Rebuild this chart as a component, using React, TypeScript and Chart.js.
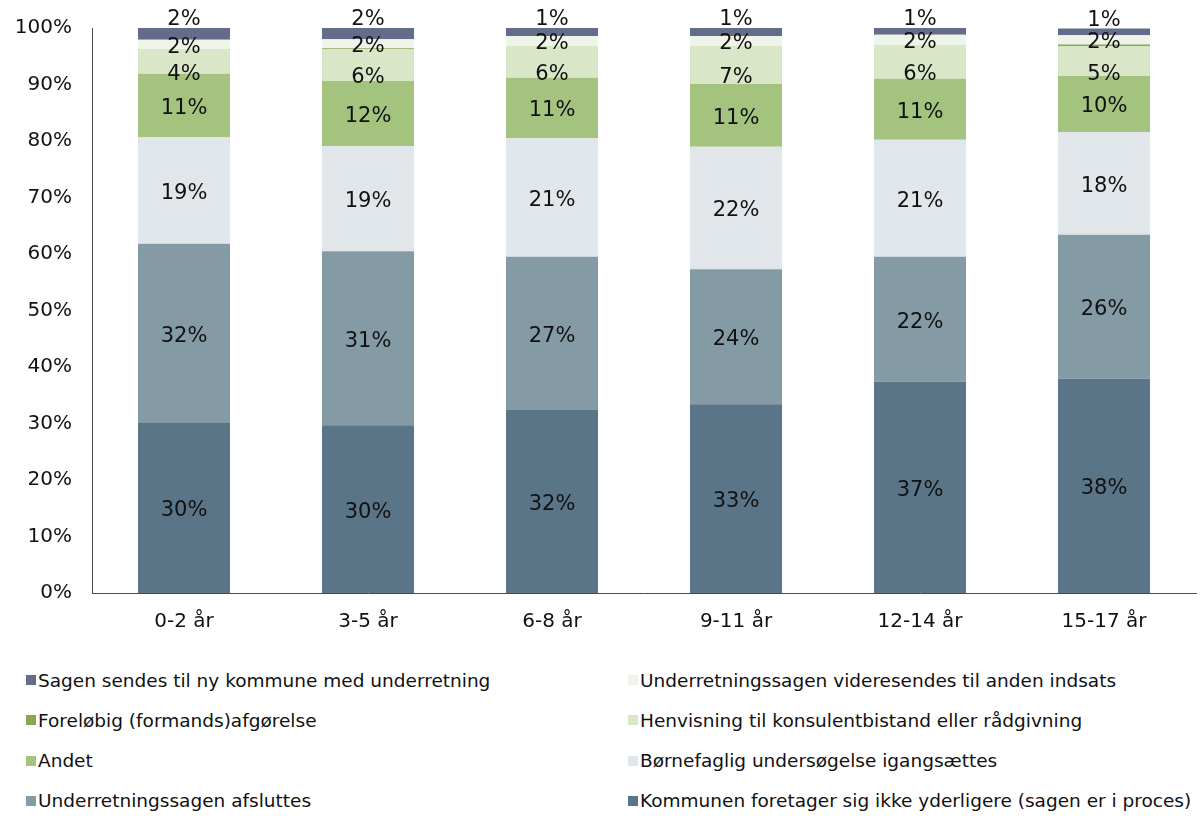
import React, { useEffect, useRef } from "react";
import { Chart, registerables } from "chart.js";

Chart.register(...registerables);

const categories = ["0-2 år", "3-5 år", "6-8 år", "9-11 år", "12-14 år", "15-17 år"];

// Series listed bottom -> top of the stack
const seriesNames = [
  "Kommunen foretager sig ikke yderligere (sagen er i proces)",
  "Underretningssagen afsluttes",
  "Børnefaglig undersøgelse igangsættes",
  "Andet",
  "Henvisning til konsulentbistand eller rådgivning",
  "Foreløbig (formands)afgørelse",
  "Underretningssagen videresendes til anden indsats",
  "Sagen sendes til ny kommune med underretning",
];

const kommunen = [30.1, 29.7, 32.4, 33.4, 37.4, 37.9];
const afsluttes = [31.7, 30.8, 27.1, 23.9, 22.1, 25.5];
const boernefaglig = [18.9, 18.6, 21.0, 21.7, 20.7, 18.2];
const andet = [11.2, 11.5, 10.7, 11.1, 10.8, 9.9];
const henvisning = [4.4, 5.7, 5.6, 6.7, 6.0, 5.3];
const foreloebig = [0, 0.1, 0, 0, 0, 0.3];
const videresendes = [1.6, 1.6, 1.8, 1.8, 1.8, 1.6];
const sagen = [2.1, 2.1, 1.4, 1.4, 1.2, 1.2];

const seriesValues = [kommunen, afsluttes, boernefaglig, andet, henvisning, foreloebig, videresendes, sagen];

const seriesColors = [
  "#5a7587",
  "#849ba6",
  "#e1e6ea",
  "#a3c37f",
  "#d9e6c7",
  "#8aa651",
  "#eef4e7",
  "#636d89",
];

const yTicks = [0, 10, 20, 30, 40, 50, 60, 70, 80, 90, 100];

const FONT = "'DejaVu Sans', Verdana, sans-serif";

const labelPlugin = {
  id: "segLabels",
  afterDatasetsDraw(chart: any) {
    const ctx = chart.ctx;
    ctx.save();
    ctx.font = `21px ${FONT}`;
    ctx.fillStyle = "#111";
    ctx.textAlign = "center";
    ctx.textBaseline = "middle";
    const n = chart.data.datasets.length;
    chart.data.datasets.forEach((ds: any, di: number) => {
      const meta = chart.getDatasetMeta(di);
      meta.data.forEach((bar: any, i: number) => {
        const v = ds.data[i];
        if (v < 0.5) return;
        const txt = Math.round(v) + "%";
        let y = (bar.y + bar.base) / 2 + 3;
        if (di === n - 1) y = bar.y - 8;
        else if (di === 4) y += 10;
        ctx.fillText(txt, bar.x, y);
      });
    });
    ctx.restore();
  },
};

export default function App() {
  const ref = useRef<HTMLCanvasElement>(null);

  useEffect(() => {
    if (!ref.current) return;
    const chart = new Chart(ref.current, {
      type: "bar",
      data: {
        labels: categories,
        datasets: seriesNames.map((name, i) => ({
          label: name,
          data: seriesValues[i],
          backgroundColor: seriesColors[i],
          borderWidth: 0,
          barPercentage: 0.5,
          categoryPercentage: 1,
        })),
      },
      options: {
        responsive: false,
        animation: false,
        layout: { padding: { left: 0, right: 8, top: 28, bottom: 0 } },
        plugins: { legend: { display: false }, tooltip: { enabled: false } },
        scales: {
          x: {
            stacked: true,
            grid: { display: false, drawTicks: false },
            border: { display: true, color: "#4b4b40", width: 1 },
            ticks: { color: "#111", font: { family: FONT, size: 20 }, padding: 17 },
            afterFit: (s: any) => { s.height = 57; s.paddingLeft = 0; s.paddingRight = 0; },
          },
          y: {
            stacked: true,
            min: 0,
            max: 100,
            afterBuildTicks: (s: any) => { s.ticks = yTicks.map((v) => ({ value: v })); },
            grid: { display: false, drawTicks: false },
            border: { display: true, color: "#4b4b40", width: 1 },
            ticks: {
              color: "#111",
              font: { family: FONT, size: 20 },
              padding: 20,
              callback: (v: any) => v + "%",
            },
            afterFit: (s: any) => { s.width = 92; s.paddingTop = 0; s.paddingBottom = 0; },
          },
        },
      },
      plugins: [labelPlugin],
    });
    return () => chart.destroy();
  }, []);

  const legendOrder = seriesNames.map((_, i) => seriesNames.length - 1 - i);

  return (
    <div style={{ position: "absolute", left: 0, top: 0, width: 1204, height: 816, background: "#fff" }}>
      <canvas ref={ref} width={1204} height={650} style={{ display: "block" }} />
      <div style={{ position: "absolute", left: 0, top: 660, width: 1204 }}>
        {legendOrder.map((si, k) => {
          const col = k % 2;
          const row = Math.floor(k / 2);
          return (
            <div
              key={si}
              style={{
                position: "absolute",
                left: col === 0 ? 26 : 628,
                top: row * 40.3 + 9,
                height: 22,
                display: "flex",
                alignItems: "center",
                whiteSpace: "nowrap",
                fontFamily: FONT,
                fontSize: 18.5,
                color: "#111",
              }}
            >
              <span style={{ display: "inline-block", width: 10, height: 10, background: seriesColors[si], marginRight: 2 }} />
              <span>{seriesNames[si]}</span>
            </div>
          );
        })}
      </div>
    </div>
  );
}
